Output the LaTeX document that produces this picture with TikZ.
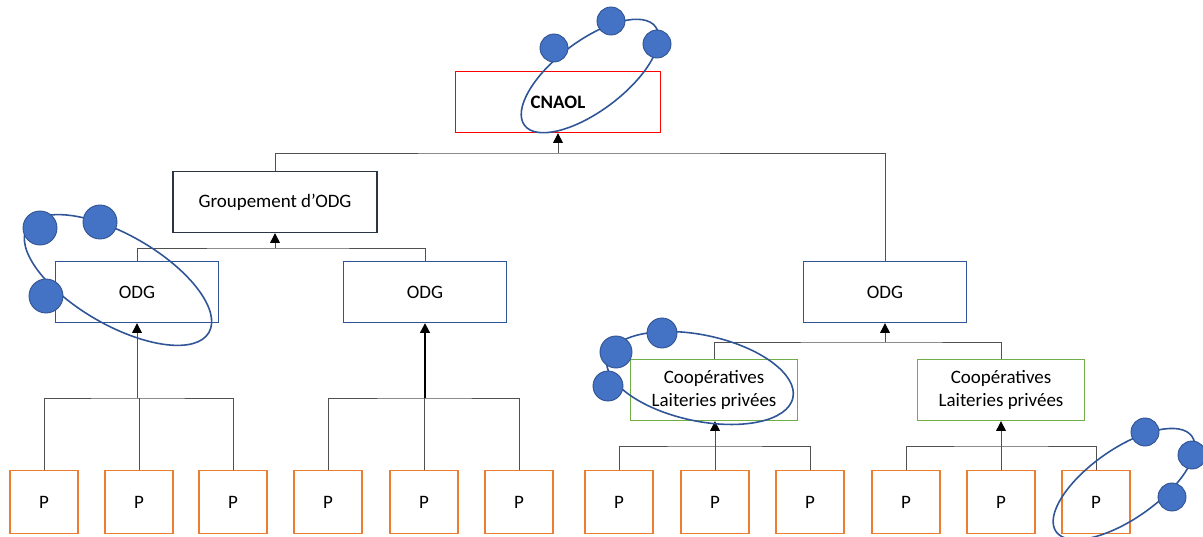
\documentclass[tikz,border=0pt]{standalone}
\usepackage{fontspec}
\setmainfont{Carlito}
\usepackage{tikz}
\usetikzlibrary{arrows.meta, positioning, calc}

\definecolor{odgblue}{HTML}{2F5597}
\definecolor{grpedge}{HTML}{2B3645}
\definecolor{dotblue}{HTML}{4472C4}
\definecolor{dotedge}{HTML}{2F528F}
\definecolor{pgreen}{HTML}{70AD47}
\definecolor{porange}{HTML}{ED7D31}
\definecolor{linegray}{HTML}{505050}

\begin{document}
\begin{tikzpicture}[
    x=0.02cm, y=-0.02cm,
    >=Triangle,
    % Styles
    basebox/.style={rectangle, fill=white, minimum height=1.22cm, font=\fontsize{10.8}{13.2}\selectfont, align=center, line width=0.75pt},
    topbox/.style={basebox, draw=red, minimum width=4.1cm, font=\fontsize{10.8}{13.2}\selectfont\bfseries},
    groupbox/.style={basebox, draw=grpedge, minimum width=4.08cm},
    odgbox/.style={basebox, draw=odgblue, minimum width=3.26cm},
    coopbox/.style={basebox, draw=pgreen, minimum width=3.34cm},
    prodbox/.style={basebox, draw=porange, minimum width=1.36cm, minimum height=1.26cm},
    linkline/.style={draw=linegray, line width=0.55pt},
    linkarrow/.style={draw=linegray, line width=0.55pt, {Triangle[length=5.5pt, width=5.5pt, black]}-},
    ring/.style={draw=odgblue, line width=0.9pt},
    dot/.style={fill=dotblue, draw=dotedge, line width=0.5pt},
]
\useasboundingbox (0,0) rectangle (1203,537);

% === BOXES ===
\node[topbox] (cnaol) at (558,102) {CNAOL};
\node[groupbox] (grp) at (275,202) {Groupement d'ODG};
\node[odgbox] (odgA) at (137,292) {ODG};
\node[odgbox] (odgB) at (425,292) {ODG};
\node[odgbox] (odgC) at (885,292) {ODG};
\node[coopbox] (coopA) at (714,390) {Coopératives\\Laiteries privées};
\node[coopbox] (coopB) at (1001,390) {Coopératives\\Laiteries privées};

% === PRODUCERS ===
\foreach \i/\xx in {1/44, 2/139, 3/233, 4/328, 5/424, 6/519, 7/619, 8/715, 9/810, 10/906, 11/1001, 12/1096}
  \node[prodbox] (p\i) at (\xx,502) {P};

% === JUNCTIONS ===
\coordinate (jA) at (137,398);
\coordinate (jB) at (425,398);
\coordinate (jC) at (715,446);
\coordinate (jD) at (1001,446);
\coordinate (jE) at (275,248);
\coordinate (jF) at (885,342);
\coordinate (jG) at (558,153);

% === PRODUCERS TO ODG / COOP ===
\draw[linkline] (p1.north) |- (jA) -| (p3.north);
\draw[linkline] (p2.north) -- (p2.north |- jA);
\draw[linkarrow] (odgA.south) -- (jA);

\draw[linkline] (p4.north) |- (jB) -| (p6.north);
\draw[linkline] (p5.north) -- (p5.north |- jB);
\draw[linkarrow, line width=1.1pt, draw=black] (odgB.south) -- (jB);

\draw[linkline] (p7.north) |- (jC) -| (p9.north);
\draw[linkline] (p8.north) -- (jC);
\draw[linkarrow] (coopA.south -| jC) -- (jC);

\draw[linkline] (p10.north) |- (jD) -| (p12.north);
\draw[linkline] (p11.north) -- (jD);
\draw[linkarrow] (coopB.south) -- (jD);

% === SECOND LEVEL ===
\draw[linkline] (odgA.north) |- (jE) -| (odgB.north);
\draw[linkarrow] (grp.south) -- (jE);

\draw[linkline] (coopA.north) |- (jF) -| (coopB.north);
\draw[linkarrow] (odgC.south) -- (jF);

% === TOP LEVEL ===
\draw[linkline] (grp.north) |- (jG) -| (odgC.north);
\draw[linkarrow] (cnaol.south) -- (jG);

% === RINGS ===
\draw[ring, rotate around={37:(590,76)}] (590,76) ellipse [x radius=1.64cm, y radius=0.7cm];
\draw[ring, rotate around={-30:(118,280)}] (118,280) ellipse [x radius=2.1cm, y radius=0.9cm];
\draw[ring, rotate around={-12:(700,378)}] (700,378) ellipse [x radius=1.9cm, y radius=0.86cm];
\draw[ring, rotate around={35:(1124,484)}] (1124,484) ellipse [x radius=1.66cm, y radius=0.7cm];

% === DOTS ===
\foreach \xx/\yy/\rr in {554/48/14, 611/21/14, 657/44/14,
                         40/228/17, 100/222/17, 46/296/17,
                         662/333/15, 616/352/16, 608/386/15,
                         1145/432/14, 1192/455/14, 1172/497/14}
  \draw[dot] (\xx,\yy) circle [radius=\rr*0.02cm];

\end{tikzpicture}
\end{document}
